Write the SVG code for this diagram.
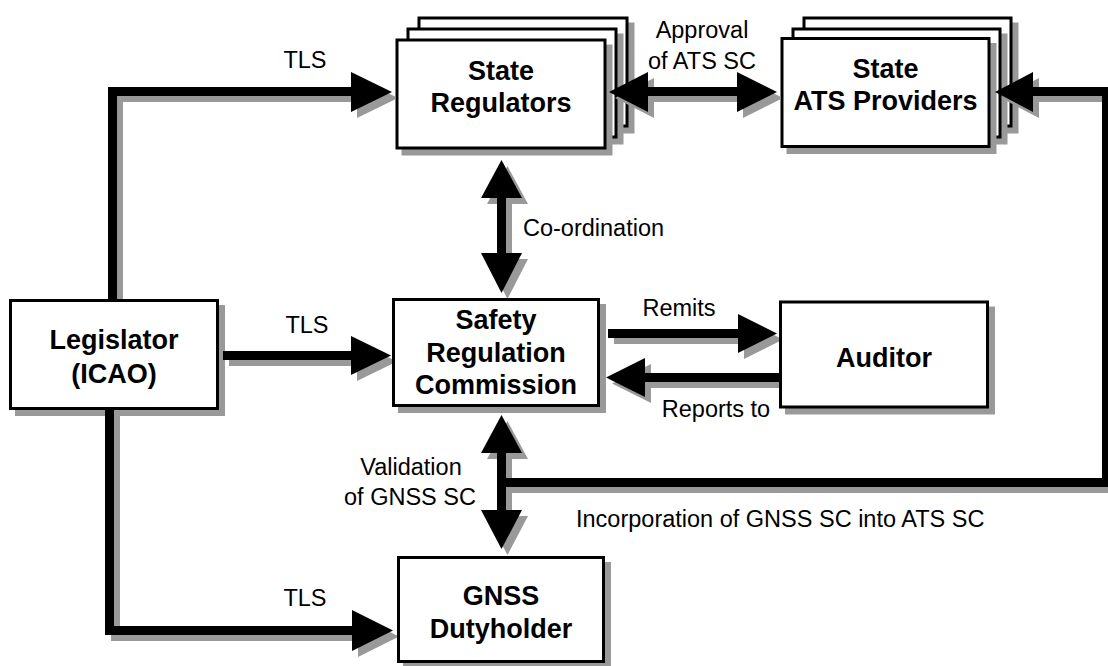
<svg xmlns="http://www.w3.org/2000/svg" xmlns:xlink="http://www.w3.org/1999/xlink" width="1108" height="666" viewBox="0 0 1108 666">
<style>
.box{fill:#fff;stroke:#000;stroke-width:3}
.sh{fill:#999;stroke:#999;stroke-width:3}
.nt{font-family:"Liberation Sans",Arial,sans-serif;font-weight:bold;font-size:27px;text-anchor:middle;fill:#000}
.lb{font-family:"Liberation Sans",Arial,sans-serif;font-size:23.5px;fill:#000}
.mid{text-anchor:middle}
</style>
<defs>
<g id="conn-shapes">
<path d="M108,300 V87 H352 V96 H117 V300 Z"/>
<path d="M351,72 L392,92 L351,112 Z"/>
<path d="M223,351 H352 V360 H223 Z"/>
<path d="M351,336 L391,355.5 L351,375 Z"/>
<path d="M105,409 V635 H353 V626 H114 V409 Z"/>
<path d="M352,610 L393,630.5 L352,651 Z"/>
<path d="M497,197 H506 V254 H497 Z"/>
<path d="M481,198 L501.5,160 L522,198 Z"/>
<path d="M481,253 L501.5,293 L522,253 Z"/>
<path d="M647,87 H738 V96 H647 Z"/>
<path d="M648,72 L609,92 L648,112 Z"/>
<path d="M737,72 L777,92 L737,112 Z"/>
<path d="M608,329 H739 V338 H608 Z"/>
<path d="M738,314 L777,333.5 L738,353 Z"/>
<path d="M644,373 H780 V382 H644 Z"/>
<path d="M645,358 L606,377.5 L645,397 Z"/>
<path d="M497,452 H506 V511 H497 Z"/>
<path d="M481,453 L501.5,415 L522,453 Z"/>
<path d="M481,510 L501.5,549 L522,510 Z"/>
<path d="M506,478 H1102 V96 H1031 V87 H1111 V487 H506 Z"/>
<path d="M1033,72 L995,92 L1033,112 Z"/>
</g>
<mask id="shmask" maskUnits="userSpaceOnUse" x="0" y="0" width="1108" height="666">
<rect x="0" y="0" width="1108" height="666" fill="#fff"/>
<rect x="9" y="299" width="210" height="111" fill="#000"/>
<rect x="395.5" y="38.5" width="211" height="110" fill="#000"/>
<rect x="780.5" y="37" width="210" height="111" fill="#000"/>
<rect x="392" y="298" width="208" height="109" fill="#000"/>
<rect x="779" y="300.5" width="210" height="108" fill="#000"/>
<rect x="397" y="556" width="208" height="107" fill="#000"/>
</mask>
</defs>

<g id="node-legislator">
<rect class="sh" x="16.5" y="306.5" width="207" height="108"/>
<rect class="box" x="10.5" y="300.5" width="207" height="108"/>
<text class="nt" x="114" y="349">Legislator</text>
<text class="nt" x="114" y="383">(ICAO)</text>
</g>

<g id="node-state-regulators">
<rect class="sh" x="425" y="24" width="208" height="108"/>
<rect class="box" x="419" y="18" width="208" height="108"/>
<rect class="sh" x="414" y="35" width="208" height="108"/>
<rect class="box" x="408" y="29" width="208" height="108"/>
<rect class="sh" x="403" y="46" width="208" height="108"/>
<rect class="box" x="397" y="40" width="208" height="108"/>
<text class="nt" x="501" y="80">State</text>
<text class="nt" x="501" y="112">Regulators</text>
</g>

<g id="node-ats-providers">
<rect class="sh" x="810" y="24" width="207" height="108"/>
<rect class="box" x="804" y="18" width="207" height="108"/>
<rect class="sh" x="799" y="35" width="207" height="108"/>
<rect class="box" x="793" y="29" width="207" height="108"/>
<rect class="sh" x="788" y="44.5" width="207" height="108"/>
<rect class="box" x="782" y="38.5" width="207" height="108"/>
<text class="nt" x="885.5" y="78">State</text>
<text class="nt" x="885.5" y="110">ATS Providers</text>
</g>

<g id="node-src">
<rect class="sh" x="399.5" y="305.5" width="205" height="106"/>
<rect class="box" x="393.5" y="299.5" width="205" height="106"/>
<text class="nt" x="496" y="329">Safety</text>
<text class="nt" x="496" y="362">Regulation</text>
<text class="nt" x="496" y="394">Commission</text>
</g>

<g id="node-auditor">
<rect class="sh" x="786.5" y="308" width="207" height="105"/>
<rect class="box" x="780.5" y="302" width="207" height="105"/>
<text class="nt" x="884" y="367">Auditor</text>
</g>

<g id="node-gnss">
<rect class="sh" x="404.5" y="563.5" width="205" height="104"/>
<rect class="box" x="398.5" y="557.5" width="205" height="104"/>
<text class="nt" x="501" y="605">GNSS</text>
<text class="nt" x="501" y="638">Dutyholder</text>
</g>

<g id="connectors">
<g mask="url(#shmask)">
<use xlink:href="#conn-shapes" href="#conn-shapes" transform="translate(6,6)" fill="#999"/>
</g>
<use xlink:href="#conn-shapes" href="#conn-shapes" fill="#000"/>
<text class="lb mid" x="305" y="67.5">TLS</text>
<text class="lb mid" x="307" y="332.5">TLS</text>
<text class="lb mid" x="305" y="605.5">TLS</text>
<text class="lb mid" x="702" y="37.5">Approval</text>
<text class="lb mid" x="702" y="68.5">of ATS SC</text>
<text class="lb" x="523" y="235.5">Co-ordination</text>
<text class="lb mid" x="679" y="315.5">Remits</text>
<text class="lb mid" x="716" y="416.5">Reports to</text>
<text class="lb mid" x="411" y="474.5">Validation</text>
<text class="lb mid" x="410" y="505">of GNSS SC</text>
<text class="lb" x="576" y="526.5">Incorporation of GNSS SC into ATS SC</text>
</g>
</svg>
